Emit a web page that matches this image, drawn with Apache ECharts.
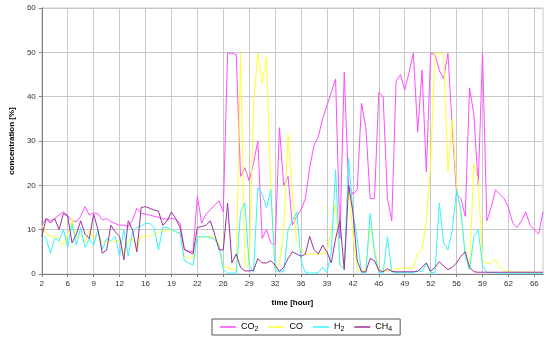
<!DOCTYPE html>
<html><head><meta charset="utf-8">
<script src="https://cdn.jsdelivr.net/npm/echarts@6/dist/echarts.min.js"></script>
<style>html,body{margin:0;padding:0;background:#fff}#c{width:550px;height:341px}</style>
</head><body><div id="c"></div>
<script>
// x tick labels (hours), one every 6 samples
const tickLabels = ['2','6','9','12','16','19','22','26','29','32','36','39','42','46','49','52','56','59','62','66'];
const co2 = [11,12.5,12,12.5,13.3,14,13.2,12,11.8,13,
15.2,13.3,13.8,13.6,12.2,12.5,11.8,11.4,11,11,
10.7,12.2,14.8,13.7,13.5,13.3,13,12.8,12.5,12.3,
12.6,12.3,11.5,5.5,5.2,5,17.5,11.5,13.5,14.5,
15.5,16.5,14,49.8,49.8,49.5,22,24,21,25,
30,8,10,7,6.5,33,20,22,11,13,
14.5,17,24,29,31,35,38,41,44,8,
45.5,20,18,19,38.5,33,17,17,41,40,
17,12,43.5,45,41.5,45.5,49.8,32,46,23,
49.8,49.5,46,44,49.8,33,18,17,13,42,
36,20,49.8,12,15,19,18,17,15,11.5,
10.5,12,14,11,10,9,14];
const co = [11,9,8.5,8.5,8,6.5,9,12.5,8,9,
7,10,8,9.5,7,7.5,7,7.5,7.5,4.5,
7.5,8,5.5,8.5,8.5,8.5,9,9.5,9.5,9.8,
10,9.5,9,4,3.5,3.8,8.5,8.2,8.4,8.5,
8.2,7,1.6,1.5,1.2,1,49.8,2,1.5,38,
49.8,43,49,20,1,2,10,31.5,18,7,
6,4.5,4.5,4.5,4.5,4.5,5,10,16,2,
1.5,20,9,1,0.8,0.8,11,6,1,0.8,
0.8,0.8,1.2,1.3,1.3,1.3,1.5,4.7,5.4,12,
25,49.8,49.8,49.5,23,35,20,13,5.5,0.8,
25,21,3,2.4,2.5,3.2,1.5,0.8,0.5,0.5,
0.4,0.4,0.4,0.4,0.4,0.3,0.3];
const h2 = [9,8,4.7,8,7.5,10,6,11.4,6.5,10.5,
6,8,6.5,10,5.5,8,7.5,8.5,4,10,
4,9.5,10.5,10.8,11.4,11.4,10.5,5.4,10.5,10.5,
10,9.5,9.3,3,2.5,2,8.4,8.4,8.4,8.2,
7.8,6.5,1,0.2,0.2,0.2,14,16,2,0.5,
19.5,18,15,19,1,0.5,0.5,10,12,14,
3,0.3,0.2,0.2,0.3,1.5,0.3,5,23.5,2,
1,26,14,8,0.3,0.3,13.7,5,0.3,0.3,
8.4,0.5,0.3,0.3,0.3,0.3,0.3,0.8,0.5,2.4,
0.3,0.3,16,7,5.4,10,19,14.4,4,1,
8.4,10,2,0.3,0.3,0.3,0.2,0.2,0.2,0.2,
0.2,0.2,0.2,0.2,0.2,0.2,0.2];
const ch4 = [8.4,12.5,11.5,12.5,10,13.7,13,7,9,12,
9,8,13.5,10,4.7,5.4,11,9.5,8.5,3.2,
12,10,5,15,15.2,14.8,14.4,14.2,11,12,
14,12.5,10.5,5.5,5,4.5,10.5,10.7,11,12,
9,5.5,5.4,16,2.5,4.5,1.5,0.7,0.7,0.8,
3.5,2.5,2.5,3,2,0.6,1.5,3.5,5,4.5,
4,4.5,8.5,5.5,4.5,6.5,5,2.5,8,12,
1,20,14,3,0.5,0.5,3.5,3,0.8,0.5,
1.2,0.6,0.5,0.5,0.5,0.5,0.5,0.6,1.5,2.5,
0.6,1.5,2.8,1.8,1,1.5,2.5,4,5,1.5,
0.5,0.4,0.4,0.4,0.4,0.4,0.4,0.4,0.4,0.4,
0.4,0.4,0.4,0.4,0.4,0.4,0.4];
const seriesNames = ['CO2','CO','H2','CH4'];
const seriesColors = ['#ff4dff','#ffff33','#33f5ff','#993399'];
const samplesPerTick = 6;

const cats = co2.map((_, i) => i);
const FONT = 'Liberation Sans, Arial, sans-serif';
const chart = echarts.init(document.getElementById('c'), null, {renderer: 'canvas'});
const legendRich = {
  t: {fontFamily: FONT, fontSize: 9, color: '#000', lineHeight: 12},
  s: {fontFamily: FONT, fontSize: 7, color: '#000', lineHeight: 12, verticalAlign: 'bottom', padding: [5, 0, 0, 0]}
};
chart.setOption({
  animation: false,
  grid: {left: 36, right: 7, top: 8, bottom: 67, show: true, borderColor: '#c8c8c8', borderWidth: 1, containLabel: false},
  xAxis: {
    type: 'category', data: cats, boundaryGap: false,
    name: 'time [hour]', nameLocation: 'middle', nameGap: 25,
    nameTextStyle: {fontFamily: FONT, fontSize: 8, fontWeight: 'bold', color: '#000'},
    axisLine: {lineStyle: {color: '#808080', width: 1}},
    axisTick: {show: true, interval: samplesPerTick - 1, length: 3, lineStyle: {color: '#808080'}},
    axisLabel: {interval: samplesPerTick - 1, fontFamily: FONT, fontSize: 8, color: '#333', margin: 6,
      formatter: (v) => { const k = v / samplesPerTick; return Number.isInteger(k) && tickLabels[k] !== undefined ? tickLabels[k] : ''; }},
    splitLine: {show: true, interval: samplesPerTick - 1, lineStyle: {color: '#c8c8c8', width: 1}}
  },
  yAxis: {
    type: 'value', min: 0, max: 60, interval: 10,
    name: 'concentration [%]', nameLocation: 'middle', nameGap: 25,
    nameTextStyle: {fontFamily: FONT, fontSize: 8, fontWeight: 'bold', color: '#000'},
    axisLine: {show: true, lineStyle: {color: '#808080', width: 1}},
    axisTick: {show: true, length: 3, lineStyle: {color: '#808080'}},
    axisLabel: {fontFamily: FONT, fontSize: 8, color: '#333', margin: 6},
    splitLine: {show: true, lineStyle: {color: '#c8c8c8', width: 1}}
  },
  legend: {
    left: 212, top: 319, orient: 'horizontal',
    borderColor: '#555', borderWidth: 1, padding: [2, 8, 2, 8],
    itemWidth: 16, itemHeight: 1.5, itemGap: 10, icon: 'rect',
    formatter: (name) => { const m = name.match(/^([A-Z]+)(\d*)$/); return m[2] ? '{t|' + m[1] + '}{s|' + m[2] + '}' : '{t|' + m[1] + '}'; },
    textStyle: {fontFamily: FONT, fontSize: 9, color: '#000', rich: legendRich, padding: [0, 0, 0, 0]},
    data: seriesNames
  },
  series: [co2, co, h2, ch4].map((d, k) => ({
    name: seriesNames[k], type: 'line', data: d, symbol: 'none', showSymbol: false,
    lineStyle: {color: seriesColors[k], width: 1}, itemStyle: {color: seriesColors[k]},
    emphasis: {disabled: true}
  }))
});
</script></body></html>
